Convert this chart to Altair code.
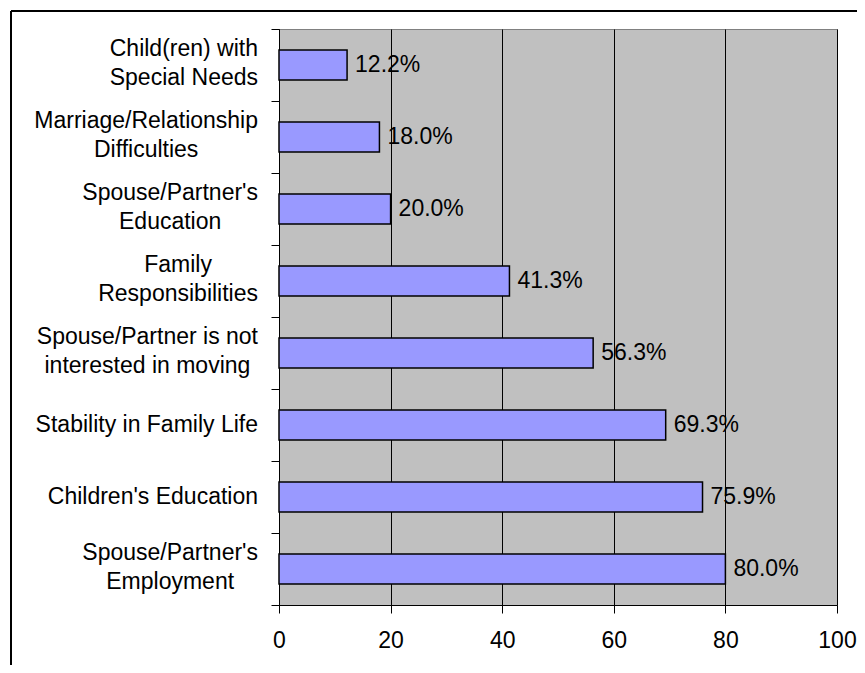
import altair as alt
import pandas as pd

# Axis category lines (first line, second line)
cat_line1 = [
    "Child(ren) with",
    "Marriage/Relationship",
    "Spouse/Partner's",
    "Family",
    "Spouse/Partner is not",
    "Stability in Family Life",
    "Children's Education",
    "Spouse/Partner's",
]
cat_line2 = [
    "Special Needs",
    "Difficulties",
    "Education",
    "Responsibilities",
    "interested in moving",
    "",
    "",
    "Employment",
]
values = [12.2, 18.0, 20.0, 41.3, 56.3, 69.3, 75.9, 80.0]
x_ticks = [0, 20, 40, 60, 80, 100]

FONT = "Liberation Sans"
FS = 23
PLOT_W = 558
PLOT_H = 576
LABEL_GAP = 21  # px between axis line and right edge of the category text

# Arial / Liberation Sans advance widths (1/1000 em), used to center the
# lines of each category label on one another as in the original chart.
W = {" ": 278, "'": 191, "(": 333, ")": 333, "/": 278,
     "A": 667, "C": 722, "D": 722, "E": 667, "F": 611, "M": 833, "N": 722,
     "P": 667, "R": 722, "S": 667,
     "a": 556, "b": 556, "c": 500, "d": 556, "e": 556, "f": 278, "g": 556,
     "h": 556, "i": 222, "j": 222, "k": 500, "l": 222, "m": 833, "n": 556,
     "o": 556, "p": 556, "q": 556, "r": 333, "s": 500, "t": 278, "u": 556,
     "v": 500, "w": 722, "x": 500, "y": 500, "z": 500}


def tw(s):
    return sum(W.get(c, 556) for c in s) * FS / 1000.0


keys = [f"c{i}" for i in range(len(values))]
texts = [a + ("|" + b if b else "") for a, b in zip(cat_line1, cat_line2)]
block_w = [max(tw(a), tw(b)) for a, b in zip(cat_line1, cat_line2)]
# centre of each label block, expressed in x-axis units (left of zero)
lab_x = [-(LABEL_GAP + w / 2) * 100.0 / PLOT_W for w in block_w]
two_line = [bool(b) for b in cat_line2]

df = pd.DataFrame({
    "key": keys,
    "value": values,
    "text": texts,
    "lx": lab_x,
    "two": two_line,
})

y_enc = alt.Y(
    "key:N",
    sort=keys,
    title=None,
    scale=alt.Scale(paddingInner=0, paddingOuter=0),
    axis=alt.Axis(
        labels=False,
        tickBand="extent",
        tickSize=8,
        tickColor="black",
        domainColor="black",
        grid=False,
    ),
)

x_enc = alt.X(
    "value:Q",
    title=None,
    scale=alt.Scale(domain=[0, 100], nice=False),
    axis=alt.Axis(
        values=x_ticks,
        labelFont=FONT,
        labelFontSize=FS,
        labelColor="black",
        labelPadding=16,
        labelFlush=False,
        tickSize=8,
        tickColor="black",
        domainColor="black",
        grid=True,
        gridColor="black",
        gridWidth=1,
        gridOpacity=1,
    ),
)

base = alt.Chart(df)

bars = base.mark_bar(size=30, fill="#9999FF", stroke="black", strokeWidth=1.5).encode(
    x=x_enc, y=y_enc
)

bar_labels = base.transform_calculate(
    lbl="format(datum.value, '.1f') + '%'"
).mark_text(
    align="left", baseline="middle", dx=8, font=FONT, fontSize=FS, color="black"
).encode(
    x=alt.X("value:Q"),
    y=alt.Y("key:N", sort=keys),
    text="lbl:N",
)

cat_two = base.transform_filter("datum.two").mark_text(
    align="center", baseline="middle", dy=-16, lineBreak="|", lineHeight=29,
    font=FONT, fontSize=FS, color="black",
).encode(
    x=alt.X("lx:Q"),
    y=alt.Y("key:N", sort=keys),
    text="text:N",
)

cat_one = base.transform_filter("!datum.two").mark_text(
    align="center", baseline="middle", font=FONT, fontSize=FS, color="black",
).encode(
    x=alt.X("lx:Q"),
    y=alt.Y("key:N", sort=keys),
    text="text:N",
)

border_data = alt.Data(values=[{"k": 0}])
top_line = alt.Chart(border_data).mark_rule(color="black", strokeWidth=2).encode(
    x=alt.value(-268), x2=alt.value(700), y=alt.value(-18)
)
left_line = alt.Chart(border_data).mark_rule(color="black", strokeWidth=2).encode(
    x=alt.value(-268), y=alt.value(-18), y2=alt.value(700)
)

chart = (
    alt.layer(bars, bar_labels, cat_two, cat_one, top_line, left_line)
    .properties(
        width=PLOT_W,
        height=PLOT_H,
        padding={"left": 271, "top": 21, "right": 20, "bottom": 60},
        autosize=alt.AutoSizeParams(type="none"),
        background="white",
    )
    .configure_view(fill="#C0C0C0", stroke="#808080", strokeWidth=1)
)

chart.save("out.html", embed_options={"renderer": "svg", "actions": False})
